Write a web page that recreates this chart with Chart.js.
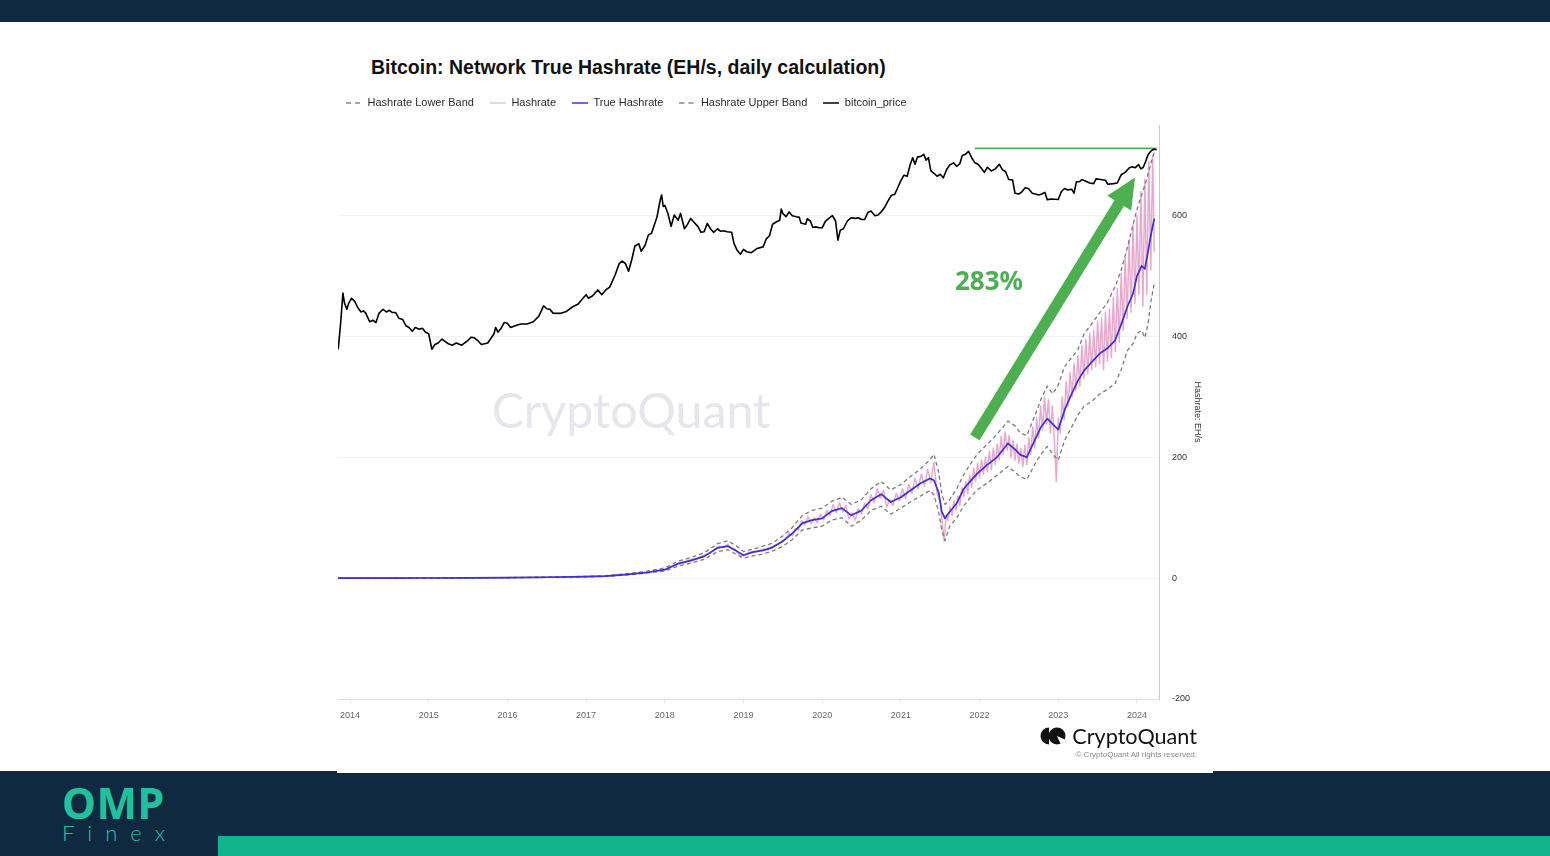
<!DOCTYPE html>
<html>
<head>
<meta charset="utf-8">
<title>Bitcoin: Network True Hashrate</title>
<script src="https://cdn.jsdelivr.net/npm/chart.js@4.4.1/dist/chart.umd.min.js"></script>
<style>
  html, body { margin: 0; padding: 0; width: 1550px; height: 856px; overflow: hidden; background: #fff; font-family: "Liberation Sans", Arial, sans-serif; }
  #topbar { position: absolute; left: 0; top: 0; width: 1550px; height: 22px; background: #0f2a40; }
  #bottom { position: absolute; left: 0; top: 771px; width: 1550px; height: 85px; background: #0f2a40; }
  #panelEdge { position: absolute; left: 337px; top: 771px; width: 876px; height: 2px; background: #fff; }
  #greenbar { position: absolute; left: 218px; top: 836px; width: 1332px; height: 20px; background: #12b48d; }
  #title { position: absolute; left: 371px; top: 57px; line-height: 20px; font-weight: bold; font-size: 19.5px; color: #111; white-space: nowrap; }
  #watermark { position: absolute; left: 631px; top: 409px; transform: translate(-50%, -50%); font-family: Lato, sans-serif; font-size: 48.3px; line-height: 50px; color: #e6e6ec; white-space: nowrap; }
  #chartBox { position: absolute; left: 322px; top: 22px; width: 891px; height: 749px; }
  #cqLogo { position: absolute; right: 353px; top: 724px; height: 24px; display: flex; align-items: center; white-space: nowrap; }
  #cqLogo span { font-family: Lato, sans-serif; font-size: 21.6px; line-height: 23px; color: #111; margin-left: 6px; }
  #cqRights { position: absolute; right: 353px; top: 750px; font-size: 8px; line-height: 10px; color: #888; white-space: nowrap; }
  #omp { position: absolute; left: 62px; top: 782px; font-family: "Noto Sans", sans-serif; font-weight: bold; font-size: 43px; line-height: 42px; color: #20c29e; letter-spacing: 0.5px; }
  #finex { position: absolute; left: 62px; top: 822px; font-family: Lato, sans-serif; font-weight: 300; font-size: 22px; line-height: 22px; color: #20c29e; letter-spacing: 13px; }
</style>
</head>
<body>
<div id="topbar"></div>
<div id="watermark">CryptoQuant</div>
<div id="title">Bitcoin: Network True Hashrate (EH/s, daily calculation)</div>
<div id="chartBox"><canvas id="chart" width="891" height="749"></canvas></div>
<div id="cqLogo">
  <svg width="26" height="18" viewBox="0 0 26 18">
    <path d="M9 0.5 A8.5 8.5 0 0 0 9 17.5 Z" fill="#111"/>
    <circle cx="17" cy="9" r="8.5" fill="#111"/>
    <path d="M17 9 L26 13 L26 18 L21 18 Z" fill="#fff"/>
  </svg>
  <span>CryptoQuant</span>
</div>
<div id="cqRights">© CryptoQuant All rights reserved.</div>
<div id="bottom"></div>
<div id="panelEdge"></div>
<div id="greenbar"></div>
<div id="omp">OMP</div>
<div id="finex">Finex</div>

<script>
// x axis labels
const tickYears = [2014, 2015, 2016, 2017, 2018, 2019, 2020, 2021, 2022, 2023, 2024];

// True hashrate and its bands (EH/s)
const trueYears = [
  2013.85, 2014.5, 2015.0, 2015.5, 2016.0, 2016.5, 2017.0, 2017.25, 2017.5, 2017.75,
  2018.0, 2018.17, 2018.33, 2018.5, 2018.67, 2018.8, 2018.9, 2019.0, 2019.12, 2019.25,
  2019.37, 2019.5, 2019.62, 2019.75, 2019.87, 2020.0, 2020.12, 2020.25, 2020.37, 2020.5,
  2020.62, 2020.75, 2020.87, 2021.0, 2021.12, 2021.25, 2021.37, 2021.42, 2021.48, 2021.52,
  2021.56, 2021.62, 2021.71, 2021.8, 2021.9, 2021.97, 2022.1, 2022.22, 2022.36, 2022.45,
  2022.52, 2022.6, 2022.7, 2022.78, 2022.86, 2022.93, 2023.0, 2023.08, 2023.17, 2023.25,
  2023.33, 2023.42, 2023.53, 2023.62, 2023.72, 2023.8, 2023.88, 2023.95, 2024.0, 2024.06,
  2024.1, 2024.14, 2024.18, 2024.22
];
const trueHashrate = [
  0, 0.1, 0.3, 0.4, 0.8, 1.5, 2.5, 3.5, 6, 9,
  14, 24, 29, 36, 50, 53, 46, 38, 43, 46,
  51, 61, 74, 91, 96, 99, 111, 116, 104, 112,
  129, 139, 126, 134, 145, 157, 165, 162, 142, 110,
  99, 110, 124, 148, 163, 173, 188, 200, 223, 213,
  204, 200, 228, 250, 264, 255, 246, 278, 305, 327,
  344, 357, 372, 380, 393, 420, 450, 471, 500, 517,
  512, 540, 570, 595
];
const upperBand = [
  0, 0.1, 0.3, 0.5, 1, 1.8, 3, 4, 7, 11,
  17, 28, 34, 42, 57, 62, 54, 44, 48, 53,
  58, 70, 84, 104, 112, 116, 127, 134, 122, 130,
  148, 160, 146, 155, 168, 181, 196, 205, 175, 140,
  122, 130, 148, 172, 192, 205, 222, 238, 260, 252,
  240, 236, 268, 296, 318, 305, 320, 350, 365, 378,
  405, 420, 440, 455, 482, 510, 548, 585, 610, 635,
  650, 668, 688, 705
];
const lowerBand = [
  0, 0.1, 0.3, 0.3, 0.6, 1.2, 2, 3, 5, 8,
  12, 20, 25, 31, 44, 47, 40, 33, 37, 40,
  45, 53, 64, 80, 83, 86, 96, 100, 86, 96,
  112, 119, 106, 116, 126, 136, 145, 138, 110, 80,
  62, 86, 100, 120, 136, 146, 158, 170, 185, 175,
  168, 163, 188, 205, 218, 205, 195, 228, 250, 270,
  285, 292, 305, 312, 322, 345, 377, 388, 405, 410,
  398, 420, 460, 488
];

// Raw network hashrate (EH/s)
const hashYears = [
  2013.85, 2014.5, 2015.0, 2015.5, 2016.0, 2016.5, 2017.0, 2017.25, 2017.5, 2017.75,
  2017.92, 2018.0, 2018.08, 2018.17, 2018.25, 2018.33, 2018.42, 2018.5, 2018.58, 2018.67,
  2018.75, 2018.8, 2018.85, 2018.9, 2018.95, 2019.0, 2019.06, 2019.12, 2019.19, 2019.25,
  2019.31, 2019.37, 2019.44,
  2019.50, 2019.54, 2019.58, 2019.62, 2019.66, 2019.70, 2019.74, 2019.78, 2019.82, 2019.86,
  2019.90, 2019.94, 2019.98, 2020.02, 2020.06, 2020.10, 2020.14, 2020.18, 2020.22, 2020.26,
  2020.30, 2020.34, 2020.38, 2020.42, 2020.46, 2020.50, 2020.54, 2020.58, 2020.62, 2020.66,
  2020.70, 2020.74, 2020.78, 2020.82, 2020.86, 2020.90, 2020.94, 2020.98, 2021.02, 2021.06,
  2021.10, 2021.14, 2021.18, 2021.22, 2021.26, 2021.30, 2021.34, 2021.38, 2021.42, 2021.46,
  2021.50,
  2021.525, 2021.55, 2021.575, 2021.6, 2021.625, 2021.65, 2021.675, 2021.7, 2021.725, 2021.75,
  2021.775, 2021.8, 2021.825, 2021.85, 2021.875, 2021.9, 2021.925, 2021.95, 2021.975, 2022.0,
  2022.025, 2022.05, 2022.075, 2022.1, 2022.125, 2022.15, 2022.175, 2022.2, 2022.225, 2022.25,
  2022.275, 2022.3, 2022.325, 2022.35, 2022.375, 2022.4, 2022.425, 2022.45, 2022.475, 2022.5,
  2022.525, 2022.55, 2022.575, 2022.6, 2022.625, 2022.65, 2022.675, 2022.7, 2022.725, 2022.75,
  2022.775, 2022.8, 2022.825, 2022.85, 2022.875, 2022.9, 2022.925, 2022.95, 2022.975, 2023.0,
  2023.025, 2023.05, 2023.075, 2023.1, 2023.125, 2023.15, 2023.175, 2023.2, 2023.225, 2023.25,
  2023.275, 2023.3, 2023.325, 2023.35, 2023.375, 2023.4, 2023.425, 2023.45, 2023.475, 2023.5,
  2023.525, 2023.55, 2023.575, 2023.6, 2023.625, 2023.65, 2023.675, 2023.7, 2023.725, 2023.75,
  2023.775, 2023.8, 2023.825, 2023.85, 2023.875, 2023.9, 2023.925, 2023.95, 2023.975, 2024.0,
  2024.025, 2024.05, 2024.075, 2024.1, 2024.125, 2024.15, 2024.175, 2024.2, 2024.22
];
const hashrate = [
  0, 0.1, 0.3, 0.4, 0.8, 1.5, 2.6, 3.4, 6.5, 9,
  13, 14, 19, 25, 27, 31, 33, 38, 42, 52,
  51, 56, 49, 45, 39, 37, 42, 44, 45, 48,
  47, 53, 56,
  63, 66, 75, 70, 82, 80, 95, 88, 102, 90,
  100, 92, 106, 97, 112, 104, 122, 108, 125, 110,
  120, 98, 108, 96, 115, 106, 124, 115, 138, 125,
  148, 132, 145, 118, 130, 120, 140, 128, 148, 132,
  155, 140, 165, 148, 172, 152, 180, 158, 192, 140,
  125,
  92, 62, 105, 95, 118, 104, 128, 112, 136, 120,
  150, 135, 160, 140, 170, 150, 182, 160, 190, 166,
  196, 172, 200, 176, 210, 180, 215, 188, 222, 196,
  235, 205, 242, 212, 236, 200, 228, 195, 222, 190,
  215, 185, 220, 188, 232, 205, 250, 215, 265, 232,
  285, 245, 300, 255, 295, 240, 285, 230, 160, 265,
  240, 300, 262, 325, 285, 340, 300, 355, 310, 368,
  318, 385, 330, 395, 338, 405, 345, 410, 350, 425,
  355, 430, 345, 440, 360, 445, 365, 465, 375, 480,
  390, 505, 410, 530, 430, 560, 440, 585, 455, 600,
  470, 640, 450, 660, 470, 690, 510, 700, 540
];

// Bitcoin price (USD, hidden log axis)
const priceYears = [
  2013.85, 2013.88, 2013.91, 2013.93, 2013.96, 2013.98, 2014.02, 2014.06, 2014.1, 2014.14,
  2014.17, 2014.2, 2014.25, 2014.29, 2014.33, 2014.37, 2014.42, 2014.46, 2014.5, 2014.54,
  2014.58, 2014.62, 2014.67, 2014.71, 2014.75, 2014.79, 2014.83, 2014.88, 2014.92, 2014.96,
  2015.0, 2015.04, 2015.08, 2015.12, 2015.17, 2015.21, 2015.25, 2015.3, 2015.35, 2015.42,
  2015.5, 2015.54, 2015.58, 2015.62, 2015.67, 2015.75, 2015.83, 2015.85, 2015.88, 2015.92,
  2015.96, 2016.0, 2016.04, 2016.1, 2016.17, 2016.25, 2016.33, 2016.4, 2016.46, 2016.5,
  2016.54, 2016.58, 2016.67, 2016.75, 2016.83, 2016.9, 2016.96, 2017.0, 2017.03, 2017.08,
  2017.15, 2017.2, 2017.25, 2017.3, 2017.37, 2017.42, 2017.46, 2017.5, 2017.54, 2017.58,
  2017.62, 2017.67, 2017.7, 2017.75, 2017.79, 2017.83, 2017.87, 2017.9, 2017.94, 2017.96,
  2017.98, 2018.0, 2018.04, 2018.08, 2018.12, 2018.17, 2018.2, 2018.25, 2018.29, 2018.33,
  2018.37, 2018.42, 2018.46, 2018.5, 2018.54, 2018.58, 2018.62, 2018.67, 2018.71, 2018.75,
  2018.79, 2018.85, 2018.88, 2018.92, 2018.96, 2019.0, 2019.04, 2019.1, 2019.17, 2019.25,
  2019.29, 2019.33, 2019.37, 2019.42, 2019.46, 2019.48, 2019.5, 2019.54, 2019.58, 2019.62,
  2019.67, 2019.71, 2019.73, 2019.79, 2019.81, 2019.85, 2019.88, 2019.92, 2019.96, 2020.0,
  2020.04, 2020.1, 2020.13, 2020.17, 2020.2, 2020.23, 2020.27, 2020.32, 2020.37, 2020.42,
  2020.46, 2020.5, 2020.54, 2020.58, 2020.62, 2020.67, 2020.71, 2020.75, 2020.79, 2020.83,
  2020.88, 2020.92, 2020.96, 2021.0, 2021.04, 2021.08, 2021.12, 2021.15, 2021.18, 2021.21,
  2021.25, 2021.29, 2021.32, 2021.35, 2021.38, 2021.42, 2021.46, 2021.5, 2021.54, 2021.58,
  2021.62, 2021.67, 2021.71, 2021.75, 2021.78, 2021.82, 2021.86, 2021.9, 2021.94, 2021.98,
  2022.02, 2022.06, 2022.1, 2022.15, 2022.2, 2022.25, 2022.29, 2022.33, 2022.37, 2022.42,
  2022.45, 2022.5, 2022.54, 2022.58, 2022.62, 2022.67, 2022.71, 2022.75, 2022.79, 2022.83,
  2022.86, 2022.9, 2022.96, 2023.0, 2023.04, 2023.08, 2023.12, 2023.17, 2023.2, 2023.23,
  2023.27, 2023.3, 2023.35, 2023.4, 2023.45, 2023.48, 2023.54, 2023.6, 2023.63, 2023.7,
  2023.75, 2023.8, 2023.85, 2023.9, 2023.94, 2023.98, 2024.02, 2024.05, 2024.08, 2024.11,
  2024.14, 2024.17, 2024.19, 2024.22, 2024.25
];
const btcPrice = [
  200, 420, 1050, 780, 650, 760, 900, 820, 680, 600,
  620, 580, 450, 470, 440, 580, 650, 600, 630, 590,
  590, 500, 480, 400, 380, 340, 380, 360, 370, 330,
  315, 200, 230, 240, 270, 250, 235, 225, 240, 225,
  260, 285, 280, 260, 230, 240, 315, 380, 330, 370,
  440, 430, 380, 400, 420, 420, 450, 530, 720, 660,
  650, 580, 575, 610, 700, 760, 900, 1000, 900, 960,
  1150, 1000, 1150, 1250, 1800, 2500, 2700, 2500, 2000, 2800,
  4200, 4500, 3600, 4300, 5800, 6100, 8000, 9800, 16000, 19000,
  13500, 14000, 11000, 7500, 10500, 9000, 11000, 7000, 8000, 9500,
  8500, 7500, 6300, 6400, 8200, 7000, 6300, 7000, 6500, 6600,
  6400, 6300, 4500, 3700, 3300, 3800, 3550, 3450, 3900, 4100,
  5200, 5700, 8000, 8600, 9000, 12500, 11000, 10000, 11500, 10300,
  10000, 9800, 8300, 8000, 9400, 8800, 7300, 7400, 7200, 7200,
  8700, 9800, 10300, 8800, 5000, 6700, 7000, 8800, 9700, 9500,
  9700, 9200, 9200, 11300, 11800, 10300, 10500, 11500, 13000, 15500,
  18800, 19200, 23500, 29000, 34000, 33000, 47000, 57000, 47000, 58000,
  59000, 63000, 53000, 57000, 39000, 36000, 33000, 35000, 31500, 40000,
  46000, 49000, 44000, 48000, 61000, 63000, 69000, 57000, 49000, 47000,
  42000, 37000, 43000, 38500, 41000, 47000, 40000, 38000, 30000, 29500,
  20000, 19500, 21000, 23500, 23000, 20000, 19500, 19000, 19500, 20500,
  16500, 16800, 16700, 16600, 21000, 23000, 22000, 22500, 20000, 28000,
  28000, 30000, 28500, 27000, 26500, 30500, 30000, 29300, 26000, 26500,
  27000, 34500, 37000, 42000, 43500, 42500, 46500, 41000, 43000, 51000,
  62000, 68000, 71000, 73000, 72000
];

// annotations
const athPrice = 75000;
const athYears = [2021.94, 2024.25];
const arrowFrom = [2021.94, 233];
const arrowTo = [2023.975, 663];
const arrowLabel = '283%';
const arrowLabelAt = [2022.12, 489];

const green = '#4caf50';
const toPoints = (xs, ys) => xs.map((x, i) => ({ x: x, y: ys[i] }));

Chart.defaults.font.family = '"Liberation Sans", Arial, sans-serif';

// small line swatch for the legend (keeps the dash pattern)
function legendSwatch(color, width, dash) {
  const c = document.createElement('canvas');
  c.width = 16;
  c.height = 4;
  const g = c.getContext('2d');
  g.strokeStyle = color;
  g.lineWidth = width;
  g.setLineDash(dash);
  g.beginPath();
  g.moveTo(0, 2);
  g.lineTo(16, 2);
  g.stroke();
  return c;
}

// adds a bit of room under the legend
const legendSpacer = {
  id: 'legendSpacer',
  beforeLayout(chart) {
    const legend = chart.legend;
    if (!legend || legend._spaced) return;
    const fit = legend.fit;
    legend.fit = function () { fit.call(this); this.height += 6.5; };
    legend._spaced = true;
  }
};

// big green arrow and the percentage label
const arrowPlugin = {
  id: 'arrow',
  afterDatasetsDraw(chart) {
    const { ctx, scales } = chart;
    const x0 = scales.x.getPixelForValue(arrowFrom[0]);
    const y0 = scales.y.getPixelForValue(arrowFrom[1]);
    const x1 = scales.x.getPixelForValue(arrowTo[0]);
    const y1 = scales.y.getPixelForValue(arrowTo[1]);
    const len = Math.hypot(x1 - x0, y1 - y0);
    const shaft = 11, headW = 28, headL = 30;
    ctx.save();
    ctx.translate(x0, y0);
    ctx.rotate(Math.atan2(y1 - y0, x1 - x0));
    ctx.fillStyle = green;
    ctx.beginPath();
    ctx.moveTo(0, -shaft / 2);
    ctx.lineTo(len - headL, -shaft / 2);
    ctx.lineTo(len - headL, -headW / 2);
    ctx.lineTo(len, 0);
    ctx.lineTo(len - headL, headW / 2);
    ctx.lineTo(len - headL, shaft / 2);
    ctx.lineTo(0, shaft / 2);
    ctx.closePath();
    ctx.fill();
    ctx.restore();

    ctx.save();
    ctx.fillStyle = green;
    ctx.font = 'bold 26px "Noto Sans", sans-serif';
    ctx.textAlign = 'center';
    ctx.textBaseline = 'middle';
    ctx.fillText(arrowLabel, scales.x.getPixelForValue(arrowLabelAt[0]), scales.y.getPixelForValue(arrowLabelAt[1]));
    ctx.restore();
  }
};

const bandColor = '#7b7b7b';
const bandStyle = {
  borderColor: bandColor, borderWidth: 1.3, borderDash: [4, 3], yAxisID: 'y', order: 2,
  pointStyle: legendSwatch('#8a8a8a', 1.3, [5, 4])
};

new Chart(document.getElementById('chart'), {
  type: 'line',
  data: {
    datasets: [
      Object.assign({ label: 'Hashrate Lower Band', data: toPoints(trueYears, lowerBand) }, bandStyle),
      {
        label: 'Hashrate', data: toPoints(hashYears, hashrate), yAxisID: 'y',
        borderColor: 'rgba(229,160,200,0.9)', borderWidth: 1.5, order: 3,
        pointStyle: legendSwatch('#e9c6d8', 1.5, [])
      },
      {
        label: 'True Hashrate', data: toPoints(trueYears, trueHashrate), yAxisID: 'y',
        borderColor: '#3b2fd6', borderWidth: 1.7, order: 1,
        pointStyle: legendSwatch('#4a3fd6', 1.6, [])
      },
      Object.assign({ label: 'Hashrate Upper Band', data: toPoints(trueYears, upperBand) }, bandStyle),
      {
        label: 'bitcoin_price', data: toPoints(priceYears, btcPrice), yAxisID: 'price',
        borderColor: '#000', borderWidth: 1.6, order: 0,
        pointStyle: legendSwatch('#111', 1.6, [])
      },
      { label: 'ath', data: athYears.map(x => ({ x: x, y: athPrice })), yAxisID: 'price', borderColor: green, borderWidth: 1.6, order: 0 }
    ]
  },
  options: {
    responsive: false,
    animation: false,
    events: [],
    layout: { padding: { left: 8, right: 0, top: 59.5, bottom: 0 } },
    elements: {
      point: { radius: 0 },
      line: { tension: 0, borderJoinStyle: 'round', fill: false }
    },
    plugins: {
      tooltip: { enabled: false },
      legend: {
        position: 'top',
        align: 'start',
        labels: {
          usePointStyle: true,
          pointStyleWidth: 16,
          padding: 16,
          color: '#2a2a2a',
          font: { size: 11 },
          filter: item => item.datasetIndex < 5,
          sort: (a, b) => a.datasetIndex - b.datasetIndex
        }
      }
    },
    scales: {
      x: {
        type: 'linear',
        min: 2013.8475,
        max: 2024.28,
        afterBuildTicks: scale => { scale.ticks = tickYears.map(v => ({ value: v })); },
        afterFit: scale => { scale.height = 72; },
        ticks: { color: '#666', font: { size: 9 }, padding: 7, maxRotation: 0, autoSkip: false, callback: v => String(v) },
        grid: { drawOnChartArea: false, color: '#e6e6e6', tickLength: 4 },
        border: { color: '#dedede' }
      },
      y: {
        position: 'right',
        min: -200,
        max: 750,
        afterFit: scale => { scale.width = 54; },
        ticks: { stepSize: 200, includeBounds: false, padding: 13, color: '#333', font: { size: 9 } },
        grid: { color: '#f2f2f2', drawTicks: false },
        border: { color: '#c8c8c8' },
        title: { display: true, text: 'Hashrate: EH/s', color: '#333', font: { size: 9 }, padding: { top: 10, bottom: 0 } }
      },
      price: {
        type: 'logarithmic',
        position: 'left',
        min: 0.00655,
        max: 149700,
        afterFit: scale => { scale.width = 8; },
        ticks: { display: false },
        grid: { display: false },
        border: { display: false }
      }
    }
  },
  plugins: [legendSpacer, arrowPlugin]
});
</script>
</body>
</html>
